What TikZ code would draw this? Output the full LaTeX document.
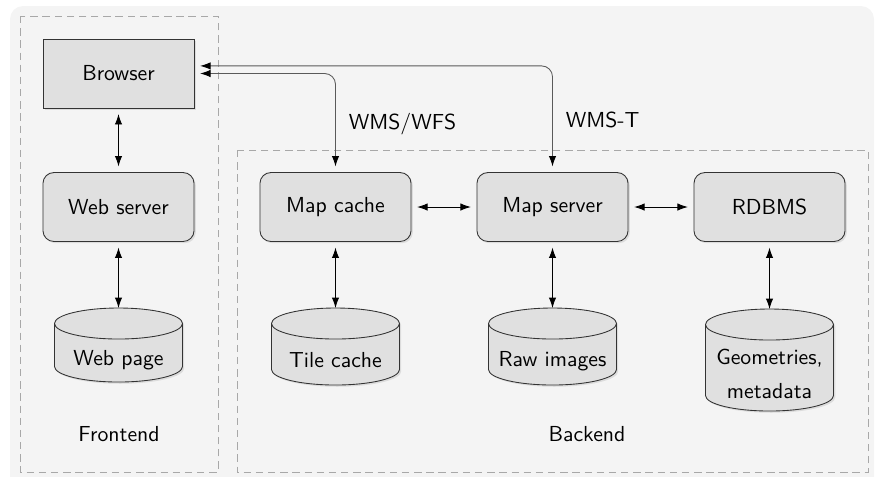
\documentclass[tikz,border=0pt]{standalone}
\usepackage{tikz}
\usetikzlibrary{shadows}
\usetikzlibrary{arrows.meta}
\definecolor{bggray}{HTML}{F4F4F4}
\definecolor{boxgray}{HTML}{E0E0E0}
\definecolor{linegray}{HTML}{5A5A5A}
\definecolor{dashgray}{HTML}{A8A8A8}

% data store: name, x, y of top, body length, node height, text
\newcommand{\dbstore}[6]{%
  \filldraw [store] (#2-64,#3+15.5) arc[start angle=180, end angle=0, x radius=29.44pt, y radius=7.13pt]
    -- ++(0,#4) arc[start angle=0, end angle=-180, x radius=29.44pt, y radius=7.13pt] -- cycle;
  \draw [storeline] (#2-64,#3+15.5) arc[start angle=180, end angle=360, x radius=29.44pt, y radius=7.13pt];
  \node [storetext, minimum height=#5] (#1) at (#2,#3) {#6};}

\begin{document}
\begin{tikzpicture}[x=0.46pt, y=-0.46pt, font=\sffamily,
  every node/.style={outer sep=2.8pt},
  tip/.style={{Latex[length=4.8pt,width=3.4pt,color=black]}-{Latex[length=4.8pt,width=3.4pt,color=black]}},
  box/.style={draw=black!80, fill=boxgray, thin, minimum width=69.5pt, minimum height=31.7pt,
    drop shadow={shadow xshift=0.8pt, shadow yshift=-0.8pt, opacity=0.2}},
  rbox/.style={box, rounded corners=5pt},
  store/.style={draw=black!80, fill=boxgray, thin,
    drop shadow={shadow xshift=0.8pt, shadow yshift=-0.8pt, opacity=0.2}},
  storeline/.style={draw=black!80, thin},
  storetext/.style={anchor=north, minimum width=58.9pt, align=center},
  area/.style={draw=dashgray, thin, dash pattern=on 3.4pt off 2.2pt}]
\clip (0,0) rectangle (875,476);
\fill [bggray, rounded corners=6pt] (10,6) rectangle (874,500);
\draw [area] (20,16) rectangle (218,472);
\draw [area] (237,150) rectangle (868,472);

% frontend
\node [box] (browser) at (118.5,73.5) {Browser};
\node [rbox] (websrv) at (118.5,207) {Web server};
\dbstore{webpage}{118.5}{308}{43}{42pt}{Web page}
\node (front) at (119,434) {Frontend};

% backend
\node [rbox] (mapcache) at (335.5,207) {Map cache};
\node [rbox] (mapsrv) at (552.5,207) {Map server};
\node [rbox] (rdbms) at (769.5,207) {RDBMS};
\dbstore{tiles}{335.5}{308}{46}{42.2pt}{Tile cache}
\dbstore{raw}{552.5}{308}{46}{43.2pt}{Raw images}
\dbstore{geom}{769.5}{309}{71}{54pt}{Geometries,\\[3.5pt]metadata}
\node (back) at (587,434) {Backend};

\draw [tip] (browser) -- (websrv);
\draw [tip] (websrv) -- (webpage);
\draw [tip] (mapcache) -- (tiles);
\draw [tip] (mapsrv) -- (raw);
\draw [tip] (rdbms) -- (geom);
\draw [tip] (mapcache) -- (mapsrv);
\draw [tip] (mapsrv) -- (rdbms);

\draw [tip, linegray, rounded corners=5pt] ([yshift=3.5pt]browser.east) -| (mapsrv.north)
  node [pos=0.77, right, black] {WMS-T};
\draw [tip, linegray, rounded corners=5pt] ([yshift=0pt]browser.east) -| (mapcache.north)
  node [pos=0.77, right, black] {WMS/WFS};
\end{tikzpicture}
\end{document}
